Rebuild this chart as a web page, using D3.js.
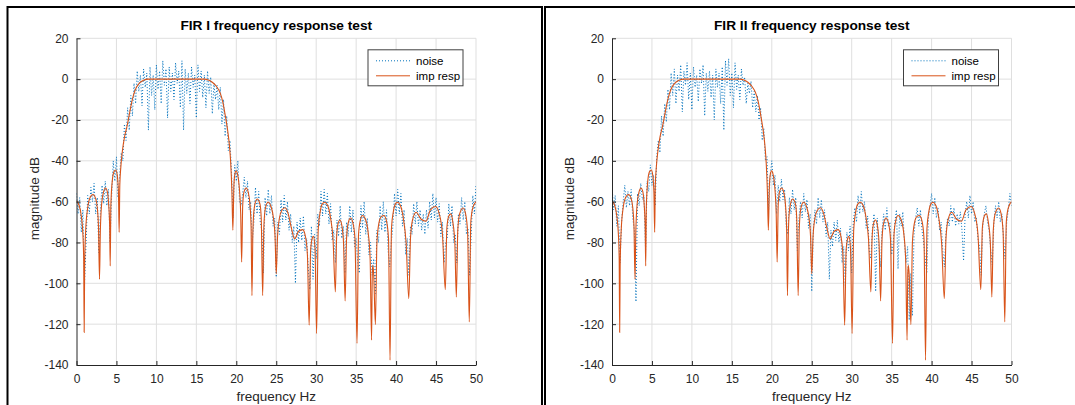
<!DOCTYPE html>
<html>
<head>
<meta charset="utf-8">
<script src="https://cdn.jsdelivr.net/npm/d3@7"></script>
<style>
  body { margin: 0; background: #fff; }
  svg { display: block; font-family: "Liberation Sans", Arial, sans-serif; }
  .axis path, .axis line { stroke: #262626; }
  .axis text { fill: #262626; font-size: 12px; }
  .grid line { stroke: #dfdfdf; }
</style>
</head>
<body>
<svg id="chart"></svg>
<script>
// axis ticks
const freqTicks = [0, 5, 10, 15, 20, 25, 30, 35, 40, 45, 50];
const dbTicks = [20, 0, -20, -40, -60, -80, -100, -120, -140];

// impulse response magnitude (same filter in both panels)
const irFreq = [0, 0.3, 0.6, 0.8, 0.9, 0.96, 1.02, 1.15, 1.4, 1.7, 2.05, 2.4, 2.6, 2.75, 2.88, 2.98, 3.15, 3.4, 3.63, 3.85, 4.02, 4.15, 4.22, 4.3, 4.5, 4.7, 4.92, 5.1, 5.25, 5.34, 5.42, 5.55, 5.75, 6.0, 6.3, 6.6, 6.9, 7.2, 7.5, 7.9, 8.4, 9.0,
  16.0, 16.5, 17.0, 17.5, 17.95, 18.3, 18.65, 18.95, 19.15, 19.3, 19.45, 19.57, 19.7, 19.82, 19.98, 20.15, 20.35, 20.55, 20.67, 20.8, 20.95, 21.23, 21.5, 21.7, 21.85, 21.96, 22.08, 22.25, 22.61, 22.95, 23.12, 23.3, 23.45, 23.65, 23.98, 24.35, 24.65, 24.85, 25.0, 25.15, 25.4, 25.7, 26.09, 26.5, 26.9, 27.3, 27.8, 28.31, 28.65, 28.9, 29.12, 29.3, 29.5, 29.65, 29.85, 30.05, 30.25, 30.5, 30.75, 31.07, 31.45, 31.8, 32.1, 32.4, 32.55, 32.72, 32.97, 33.2, 33.42, 33.62, 33.8, 34.0, 34.3, 34.6, 34.85, 35.11, 35.3, 35.5, 35.8, 36.15, 36.5, 36.75, 36.93, 37.02, 37.09, 37.2, 37.41, 37.6, 37.85, 38.15, 38.47, 38.8, 39.05, 39.24, 39.42, 39.65, 39.9, 40.17, 40.55, 40.9, 41.25, 41.59, 41.8, 42.05, 42.52, 43.1, 43.73, 44.3, 44.95, 45.4, 45.8, 46.16, 46.35, 46.6, 46.85, 47.1, 47.35, 47.54, 47.72, 47.95, 48.39, 48.7, 48.95, 49.16, 49.35, 49.6, 50];
const irDb = [-59.5, -61.5, -67, -76, -88, -124, -92, -74, -63, -58, -56.5, -58.5, -63, -72, -98, -75, -61, -55, -53.3, -55, -61, -72, -91.5, -62, -49, -45.3, -44.5, -47, -56, -75, -52, -43, -35, -28.5, -23.5, -17.5, -11.5, -7, -4, -1.8, -0.5, 0,
  0, -0.4, -1.5, -3.5, -6.5, -11, -18.5, -26, -33, -41, -55, -74, -52, -46.5, -44.9, -46.5, -52, -66, -89.6, -62, -55.5, -53.3, -55.5, -61, -72, -106, -74, -63, -58.7, -61, -68, -106, -72, -63, -60.3, -62.5, -68, -77, -95.3, -78, -68, -64.2, -63, -66, -73, -78.2, -74.5, -73.7, -77, -86, -120.5, -84, -78, -77, -83, -124.6, -74, -65, -61.2, -60.3, -62, -68, -78, -104.2, -78, -71, -69, -71.5, -80, -108.6, -78, -70.5, -68, -70.5, -78, -129.4, -76, -69.5, -66.8, -68.5, -75, -88, -127.8, -95, -91.2, -96, -120.2, -80, -70.5, -67.3, -66.8, -69.5, -78, -137.6, -73, -65, -61.2, -60.3, -62, -68, -80, -107.5, -78, -69, -65.2, -68.5, -69.6, -64, -62.4, -66, -76, -103.1, -73, -67, -66, -70, -80, -106.7, -74, -66, -63.1, -66, -75, -118.9, -70, -63, -60];

// noise test, sampled every 0.2 Hz from 0 to 50
const noiseFreq = d3.range(251).map(i => i / 5);
const noiseFir1 = [-56, -66, -58, -75, -64, -100, -80, -57, -66, -53, -60, -51, -66, -58, -85, -64, -52, -61, -50, -62, -54, -80, -57, -40, -50, -38, -58, -47, -36, -40,
  -22, -30, -14, -25, -8, -18, -2, -12, 4, -6, 2, -13, 5, -4, 3, -25, 6, -8, 2, -15,
  7, -5, 4, -12, 9, -3, 5, -19, 6, -6, 3, -10, 8, -2, 4, -14, 9, -25, 5, -7,
  3, -12, 6, -4, 2, -19, 7, -6, 4, -9, 2, -14, 4, -7, 1, -17, -2, -10, -3, -15,
  -4, -22, -10, -28, -18, -35, -30, -45, -68, -42, -50, -40, -60, -62, -56, -48, -58, -50, -64, -60,
  -80, -70, -53, -66, -55, -70, -74, -95, -58, -67, -54, -66, -57, -72, -68, -97, -70, -76, -59, -70,
  -57, -69, -60, -74, -66, -80, -72, -100, -70, -80, -68, -79, -67, -84, -78, -92, -103, -72, -98, -76,
  -88, -66, -72, -55, -67, -54, -66, -56, -71, -61, -79, -74, -90, -69, -77, -62, -78, -72, -95, -70,
  -77, -62, -75, -64, -82, -78, -90, -95, -62, -73, -60, -76, -68, -86, -80, -96, -88, -105, -74, -80,
  -62, -74, -60, -75, -64, -84, -92, -80, -72, -56, -67, -54, -66, -56, -72, -64, -86, -78, -96, -72,
  -76, -61, -71, -60, -72, -64, -74, -66, -76, -64, -73, -60, -69, -56, -68, -58, -70, -61, -77, -70,
  -90, -80, -78, -61, -72, -62, -80, -76, -90, -66, -71, -58, -69, -60, -76, -73, -96, -76, -57, -66, -52];
const noiseFir2 = [-52, -64, -57, -72, -62, -90, -70, -60, -52, -63, -55, -62, -54, -68, -74, -109, -56, -62, -51, -59, -57, -84, -50, -55, -42, -52, -47, -62, -38, -30,
  -36, -18, -28, -12, -21, -5, -15, 3, -8, 5, -12, 2, -6, 7, -16, 4, -3, 8, -10, 3,
  -15, 6, -4, 2, -11, 5, -2, 7, -18, 3, -6, 4, -9, 2, -20, 5, -4, 3, -12, 6,
  -25, 9, -3, 10, -8, 3, -14, 8, -5, 2, -10, 5, -3, 1, -12, -2, -7, -1, -14, -6,
  -16, -8, -20, -14, -30, -24, -40, -38, -64, -47, -40, -52, -47, -66, -52, -60, -49, -59, -54, -72,
  -76, -58, -66, -54, -64, -58, -84, -68, -60, -68, -56, -65, -59, -73, -66, -104, -74, -64, -71, -58,
  -68, -59, -70, -64, -77, -70, -98, -74, -82, -70, -79, -69, -80, -73, -90, -82, -101, -75, -84, -72,
  -95, -70, -63, -70, -57, -66, -55, -65, -60, -73, -67, -84, -88, -73, -66, -104, -68, -82, -92, -74,
  -66, -74, -63, -72, -70, -86, -80, -70, -64, -93, -66, -72, -65, -80, -90, -82, -118, -95, -116, -76,
  -68, -63, -72, -64, -74, -80, -88, -95, -68, -62, -56, -66, -58, -68, -63, -74, -70, -84, -92, -75,
  -68, -72, -62, -70, -63, -72, -66, -71, -65, -74, -89, -66, -60, -68, -57, -66, -60, -70, -68, -78,
  -82, -96, -72, -66, -62, -70, -74, -84, -91, -70, -62, -68, -60, -70, -66, -78, -88, -70, -64, -56, -62];

const panelTitles = ['FIR I frequency response test', 'FIR II frequency response test'];
const legendLabels = ['noise', 'imp resp'];

class FreqPlot {

    constructor(_config, _noise) {
        this.config = {
            parent: _config.parent,
            left: _config.left,
            title: _config.title,
            width: 399.5,
            height: 326.7,
            top: 38.3
        };
        this.noise = _noise;
        this.initVis();
    }

    initVis() {
        let vis = this;

        vis.xScale = d3.scaleLinear().domain([0, 50]).range([0, vis.config.width]);
        vis.yScale = d3.scaleLinear().domain([-140, 20]).range([vis.config.height, 0]);

        vis.g = vis.config.parent.append('g')
            .attr('transform', `translate(${vis.config.left},${vis.config.top})`);

        // gridlines
        vis.g.append('g').attr('class', 'grid')
            .selectAll('line.gx').data(freqTicks.slice(1)).join('line')
            .attr('x1', d => vis.xScale(d)).attr('x2', d => vis.xScale(d))
            .attr('y1', 0).attr('y2', vis.config.height);
        vis.g.append('g').attr('class', 'grid')
            .selectAll('line.gy').data(dbTicks.slice(0, -1)).join('line')
            .attr('x1', 0).attr('x2', vis.config.width)
            .attr('y1', d => vis.yScale(d)).attr('y2', d => vis.yScale(d));

        vis.g.append('clipPath').attr('id', 'clip' + vis.config.left)
            .append('rect').attr('width', vis.config.width).attr('height', vis.config.height);

        vis.marks = vis.g.append('g').attr('clip-path', `url(#clip${vis.config.left})`);

        // plain hyphen minus like the original labels
        vis.xAxis = d3.axisBottom(vis.xScale).tickValues(freqTicks).tickFormat(d => d)
            .tickSizeInner(-4).tickSizeOuter(0).tickPadding(9);
        vis.yAxis = d3.axisLeft(vis.yScale).tickValues(dbTicks).tickFormat(d => d)
            .tickSizeInner(-4).tickSizeOuter(0).tickPadding(8);

        vis.g.append('g').attr('class', 'axis')
            .attr('transform', `translate(0,${vis.config.height})`)
            .call(vis.xAxis);
        vis.g.append('g').attr('class', 'axis')
            .call(vis.yAxis);

        vis.g.append('text')
            .attr('x', vis.config.width / 2).attr('y', -8)
            .attr('text-anchor', 'middle')
            .style('font-weight', 'bold').style('font-size', '13.7px').attr('fill', '#000')
            .text(vis.config.title);

        vis.g.append('text')
            .attr('x', vis.config.width / 2).attr('y', vis.config.height + 36)
            .attr('text-anchor', 'middle')
            .style('font-size', '13.5px').attr('fill', '#262626')
            .text('frequency Hz');

        vis.g.append('text')
            .attr('transform', `translate(${-38},${vis.config.height / 2 - 3}) rotate(-90)`)
            .attr('text-anchor', 'middle')
            .style('font-size', '13.5px').attr('fill', '#262626')
            .text('magnitude dB');

        vis.renderVis();
    }

    renderVis() {
        let vis = this;

        const noiseLine = d3.line()
            .x(d => vis.xScale(d[0]))
            .y(d => vis.yScale(d[1]));
        const irLine = d3.line()
            .x(d => vis.xScale(d[0]))
            .y(d => vis.yScale(d[1]))
            .curve(d3.curveMonotoneX);

        vis.marks.append('path')
            .datum(noiseFreq.map((f, i) => [f, vis.noise[i]]))
            .attr('d', noiseLine)
            .attr('fill', 'none')
            .attr('stroke', '#0072BD')
            .attr('stroke-width', 1)
            .attr('stroke-dasharray', '1,2');

        vis.marks.append('path')
            .datum(irFreq.map((f, i) => [f, irDb[i]]))
            .attr('d', irLine)
            .attr('fill', 'none')
            .attr('stroke', '#D95319')
            .attr('stroke-width', 1.1);

        // legend
        const lg = vis.g.append('g')
            .attr('transform', `translate(${vis.config.width - 108},${11.5})`);
        lg.append('rect')
            .attr('width', 95).attr('height', 36)
            .attr('fill', '#fff').attr('stroke', '#404040').attr('stroke-width', 1);
        legendLabels.forEach((lab, i) => {
            const y = 11 + i * 15;
            lg.append('line')
                .attr('x1', 8).attr('x2', 42).attr('y1', y).attr('y2', y)
                .attr('stroke', i === 0 ? '#0072BD' : '#D95319')
                .attr('stroke-width', 1)
                .attr('stroke-dasharray', i === 0 ? '1,2' : null);
            lg.append('text')
                .attr('x', 48).attr('y', y + 4)
                .style('font-size', '11.5px').attr('fill', '#000')
                .text(lab);
        });
    }
}

const svg = d3.select('#chart')
    .attr('width', 1075)
    .attr('height', 405);

svg.append('rect').attr('width', 1075).attr('height', 405).attr('fill', '#fff');

// figure frames
svg.append('rect').attr('x', 7.5).attr('y', 7).attr('width', 534.5).attr('height', 500)
    .attr('fill', 'none').attr('stroke', '#000').attr('stroke-width', 2);
svg.append('rect').attr('x', 545).attr('y', 7).attr('width', 600).attr('height', 500)
    .attr('fill', 'none').attr('stroke', '#000').attr('stroke-width', 2);

new FreqPlot({ parent: svg, left: 76.5, title: panelTitles[0] }, noiseFir1);
new FreqPlot({ parent: svg, left: 612, title: panelTitles[1] }, noiseFir2);
</script>
</body>
</html>
